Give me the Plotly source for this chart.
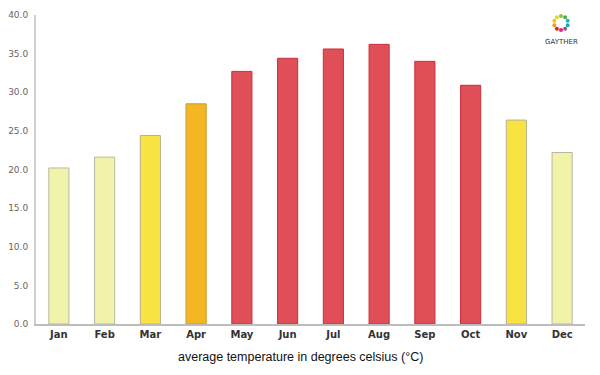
import plotly.graph_objects as go
import math

months = ["Jan", "Feb", "Mar", "Apr", "May", "Jun", "Jul", "Aug", "Sep", "Oct", "Nov", "Dec"]
temps = [20.2, 21.6, 24.4, 28.5, 32.7, 34.4, 35.6, 36.2, 34.0, 30.9, 26.4, 22.2]
fill_colors = ["#F2F3AA", "#F2F3AA", "#F8E342", "#F4B622", "#E04F57", "#E04F57",
               "#E04F57", "#E04F57", "#E04F57", "#E04F57", "#F8E342", "#F2F3AA"]
line_colors = ["#B8B8A0", "#B8B8A0", "#B8B090", "#C89A30", "#C8303A", "#C8303A",
               "#C8303A", "#C8303A", "#C8303A", "#C8303A", "#B8B090", "#B8B8A0"]

# page body has an 8px margin; compensate so the plot area sits at x 36-585, y 15-324
OFF = 8
L, R, T, B = 36 - OFF, 600 + OFF - 585, 15 - OFF, 375 + OFF - 324

fig = go.Figure(go.Bar(
    x=months, y=temps,
    marker=dict(color=fill_colors, line=dict(color=line_colors, width=1)),
    width=0.44,
    hoverinfo="x+y",
))

fig.update_layout(
    width=600, height=375,
    margin=dict(l=L, r=R, t=T, b=B),
    paper_bgcolor="white", plot_bgcolor="white",
    showlegend=False,
    font=dict(family="DejaVu Sans, sans-serif", color="#444"),
    xaxis=dict(showgrid=False, showline=True, linecolor="#BDBDBD", linewidth=1.5,
               ticks="", tickfont=dict(size=10, color="#333", family="DejaVu Sans", weight=600),
               range=[-0.5, 11.5], automargin=False),
    yaxis=dict(range=[0, 40], dtick=5, tickformat=".1f", showgrid=False,
               showline=True, linecolor="#CFCFCF", linewidth=2, ticks="",
               tickfont=dict(size=9, color="#666", family="DejaVu Sans"),
               ticklabelstandoff=4,
               zeroline=False, automargin=False),
)

fig.add_annotation(text="average temperature in degrees celsius (°C)",
                   xref="paper", yref="paper", x=(300 - 36) / 549, y=-33 / 309,
                   yanchor="middle", xanchor="center", showarrow=False,
                   font=dict(family="Liberation Sans, Arial", size=12.5, color="#111"))

# logo (positions in window pixels converted to paper coords)
def px2paper(px, py):
    return (px - 36) / 549, (324 - py) / 309

lx, ly = px2paper(561, 42)
fig.add_annotation(text="GAYTHER", xref="paper", yref="paper", x=lx, y=ly,
                   xanchor="center", yanchor="middle", showarrow=False,
                   font=dict(family="DejaVu Sans", size=7, color="#333"))
ring_colors = ["#8CC63F", "#3BB54A", "#29ABE2", "#1BA9A0", "#9E4C9C", "#E4237B",
               "#ED1C24", "#F7941D", "#F9C013", "#D7DF23"]
cx, cy, rr = 561, 23, 7
for i, c in enumerate(ring_colors):
    a = math.pi / 2 - i * 2 * math.pi / len(ring_colors)
    px, py = cx + rr * math.cos(a), cy - rr * math.sin(a)
    x0, y0 = px2paper(px - 2, py + 2)
    x1, y1 = px2paper(px + 2, py - 2)
    fig.add_shape(type="circle", xref="paper", yref="paper",
                  x0=x0, x1=x1, y0=y0, y1=y1,
                  fillcolor=c, line=dict(width=0))

fig.write_html("out.html")
